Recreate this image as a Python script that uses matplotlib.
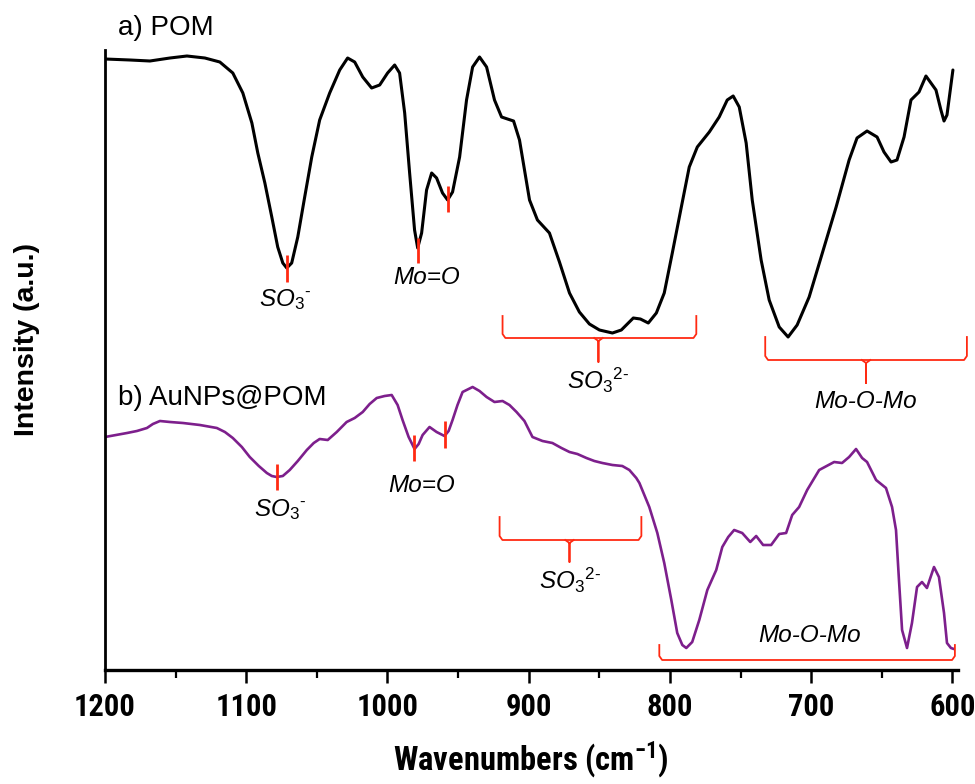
import matplotlib
matplotlib.use("Agg")
import matplotlib.pyplot as plt
from matplotlib import font_manager as fm

# ---- data (wavenumber cm-1, arbitrary intensity) ----
pom_wn = [1200.0, 1182.3, 1168.2, 1154.0, 1142.0, 1129.3, 1118.7, 1109.5, 1102.4, 1096.0,
          1091.8, 1086.8, 1081.9, 1077.7, 1074.1, 1071.3, 1067.8, 1063.5, 1058.6, 1053.6,
          1048.0, 1040.9, 1033.8, 1028.2, 1023.2, 1017.5, 1011.2, 1005.5, 999.9, 994.9,
          991.4, 987.8, 984.3, 980.8, 978.6, 975.8, 972.3, 968.7, 965.2, 961.0,
          957.4, 953.9, 948.9, 944.0, 939.7, 934.8, 929.8, 924.2, 919.2, 915.0,
          910.7, 906.5, 899.4, 893.8, 885.3, 878.2, 871.1, 864.1, 857.0, 849.9,
          840.7, 834.4, 825.9, 820.9, 815.3, 809.6, 804.0, 798.3, 791.9, 786.3,
          780.6, 772.1, 765.1, 759.4, 755.2, 750.9, 746.0, 741.7, 735.4, 729.7,
          722.6, 716.3, 709.9, 701.4, 692.9, 682.3, 673.1, 667.5, 660.4, 653.3,
          648.4, 643.4, 639.2, 634.2, 629.3, 623.6, 618.7, 611.6, 608.1, 605.9,
          603.8, 599.6]
pom_int = [611, 610, 609, 612, 614, 612, 608, 597, 577, 547,
           517, 487, 453, 423, 407, 402, 407, 433, 473, 513,
           550, 577, 600, 612, 608, 593, 582, 585, 597, 605,
           597, 557, 497, 440, 422, 437, 480, 497, 492, 477,
           470, 478, 513, 570, 603, 613, 603, 570, 553, 551,
           549, 530, 470, 450, 437, 408, 377, 358, 346, 340,
           337, 340, 352, 351, 347, 357, 377, 417, 463, 503,
           523, 538, 553, 570, 574, 563, 527, 470, 410, 370,
           343, 333, 345, 373, 413, 463, 510, 532, 539, 533,
           518, 508, 510, 533, 570, 578, 594, 580, 560, 549,
           555, 600]

au_wn = [1200.0, 1192.2, 1184.4, 1177.4, 1170.3, 1166.1, 1161.1, 1154.0, 1144.8, 1132.8,
         1120.8, 1115.1, 1109.5, 1103.1, 1097.5, 1091.1, 1085.4, 1081.9, 1078.4, 1074.1,
         1069.2, 1063.5, 1057.1, 1052.2, 1048.0, 1042.3, 1035.9, 1028.9, 1023.2, 1017.5,
         1012.6, 1007.6, 1002.0, 997.0, 992.8, 989.3, 985.0, 980.8, 977.9, 975.1,
         970.2, 965.2, 959.6, 956.7, 953.9, 950.4, 946.8, 939.7, 934.8, 929.8,
         924.2, 918.5, 913.6, 908.6, 903.0, 897.3, 890.2, 883.2, 876.8, 871.1,
         865.5, 859.1, 853.5, 847.8, 840.7, 833.7, 828.7, 823.8, 821.6, 814.6,
         808.9, 804.0, 799.0, 794.8, 791.2, 788.4, 784.2, 779.2, 773.5, 767.2,
         762.9, 758.7, 754.5, 748.8, 743.1, 738.9, 734.0, 728.3, 722.6, 717.7,
         713.4, 708.5, 702.8, 694.3, 683.7, 678.1, 673.1, 668.2, 663.9, 660.4,
         654.0, 647.0, 642.7, 639.9, 637.8, 635.6, 632.1, 628.6, 625.0, 621.5,
         618.0, 613.0, 609.5, 605.9, 603.8, 601.0, 598.9]
au_int = [233, 235, 237, 239, 242, 246, 249, 248, 247, 245,
          242, 238, 232, 223, 213, 204, 197, 194, 193, 194,
          200, 209, 220, 227, 231, 230, 238, 248, 252, 258,
          266, 272, 274, 275, 265, 250, 233, 221, 226, 235,
          243, 238, 234, 239, 250, 265, 278, 283, 279, 273,
          268, 269, 265, 258, 249, 233, 229, 227, 222, 218,
          216, 212, 209, 207, 205, 204, 200, 192, 187, 163,
          137, 107, 70, 37, 25, 22, 28, 50, 80, 100,
          123, 133, 140, 137, 128, 134, 125, 125, 136, 137,
          155, 163, 180, 200, 208, 207, 213, 221, 212, 208,
          190, 182, 163, 140, 90, 40, 22, 47, 83, 88,
          82, 103, 93, 57, 27, 22, 21]

x_ticks = [1200, 1100, 1000, 900, 800, 700, 600]
x_tick_labels = ["1200", "1100", "1000", "900", "800", "700", "600"]
x_minor = [1150, 1050, 950, 850, 750, 650]

# peak markers: (wavenumber, y_low, y_high)
pom_marks = [(1071.3, 388, 415), (978.6, 407, 432), (957.4, 458, 484)]
au_marks = [(1078.4, 180, 206), (981.5, 209, 235), (959.6, 222, 249)]

RED = "#FF2A12"
PURPLE = "#7D1F8C"

# pick a condensed bold font if one is installed
names = {f.name for f in fm.fontManager.ttflist}
narrow = None
for cand in ["Liberation Sans Narrow", "Arial Narrow", "Roboto Condensed",
             "Open Sans Condensed", "DejaVu Sans Condensed", "Noto Sans Condensed"]:
    if cand in names:
        narrow = cand
        break
if narrow is None:
    for f in fm.fontManager.ttflist:
        if ("Condensed" in f.name or "Narrow" in f.name) and "Mono" not in f.name:
            narrow = f.name
            break
sans = "Liberation Sans"
if narrow is None:
    narrow = sans
    tick_fs, xl_fs = 19, 21
else:
    tick_fs, xl_fs = 22, 23.5

plt.rcParams["mathtext.fontset"] = "custom"
plt.rcParams["mathtext.it"] = sans + ":italic"
plt.rcParams["mathtext.rm"] = sans
plt.rcParams["mathtext.bf"] = narrow + ":bold"

fig = plt.figure(figsize=(9.75, 7.84), dpi=100)
ax = fig.add_axes([105/975, 1-670/784, (958-105)/975, (670-50)/784])
ax.set_xlim(1200, 596)
ax.set_ylim(0, 620)

ax.plot(pom_wn, pom_int, color="black", lw=2.2, solid_joinstyle="round", solid_capstyle="round")
ax.plot(au_wn, au_int, color=PURPLE, lw=1.9, solid_joinstyle="round", solid_capstyle="round")

for x, y0, y1 in pom_marks + au_marks:
    ax.plot([x, x], [y0, y1], color=RED, lw=2.0, solid_capstyle="butt")


def bracket(x0, x1, ytop, ybot, xc=None, ynotch=None):
    ax.plot([x0, x0, x0 - 2, x1 + 2, x1, x1], [ytop, ybot + 4, ybot, ybot, ybot + 4, ytop],
            color=RED, lw=1.3, clip_on=False, solid_joinstyle="round")
    if xc is not None:
        ax.plot([xc + 3, xc, xc, xc, xc - 3], [ybot, ybot - 3, ynotch, ybot - 3, ybot],
                color=RED, lw=1.3, clip_on=False, solid_joinstyle="round")


bracket(918.5, 781.3, 354, 332, 850.6, 308)
bracket(732.5, 589.7, 333, 310, 661.1, 287)
bracket(920.6, 820.2, 153, 130, 871.1, 108)
bracket(807.5, 598.2, 25, 10)

so3 = "SO$_{\\mathit{3}}$$^{\\mathit{\u2010}}$"
so32 = "SO$_{\\mathit{3}}$$^{\\mathit{2\u2010}}$"
tk = dict(fontsize=17.5, family=sans, style="italic", ha="center", va="center")
ax.text(1072.7, 370, so3, **tk)
ax.text(972.3, 393, "Mo=O", **tk)
ax.text(850.6, 290, so32, **tk)
ax.text(661.1, 268, "Mo-O-Mo", **tk)
ax.text(1076.2, 160, so3, **tk)
ax.text(975.8, 185, "Mo=O", **tk)
ax.text(871.1, 90, so32, **tk)
ax.text(701.4, 34, "Mo-O-Mo", **tk)

ax.text(1190.8, 642, "a) POM", fontsize=20, family=sans, ha="left", va="center", clip_on=False)
ax.text(1190.8, 272, "b) AuNPs@POM", fontsize=20, family=sans, ha="left", va="center")

for s in ["top", "right"]:
    ax.spines[s].set_visible(False)
ax.spines["left"].set_linewidth(2.0)
ax.spines["bottom"].set_linewidth(2.4)
ax.set_yticks([])
ax.set_xticks(x_ticks)
ax.set_xticklabels(x_tick_labels, family=narrow, fontweight="bold", fontsize=tick_fs)
ax.set_xticks(x_minor, minor=True)
ax.tick_params(axis="x", which="major", direction="out", length=9, width=1.8, pad=7)
ax.tick_params(axis="x", which="minor", direction="out", length=6, width=1.6)

fig.text(531/975, 1-760/784, r"Wavenumbers (cm$^{\mathbf{-1}}$)", family=narrow, fontweight="bold",
         fontsize=xl_fs, ha="center", va="center")
fig.text(27/975, 1-340/784, "Intensity (a.u.)", family=sans, fontweight="bold",
         fontsize=20.5, rotation=90, ha="center", va="center")

fig.savefig("out.png", dpi=100)
